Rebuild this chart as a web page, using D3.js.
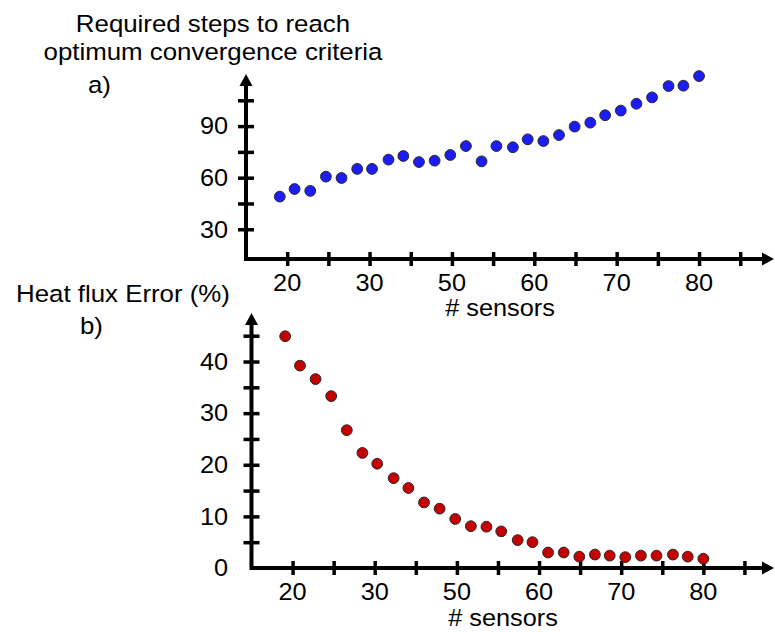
<!DOCTYPE html>
<html>
<head>
<meta charset="utf-8">
<script src="https://cdn.jsdelivr.net/npm/d3@7"></script>
<style>
  html, body { margin: 0; padding: 0; background: #fff; }
  svg { display: block; font-family: "Liberation Sans", Arial, sans-serif; }
</style>
</head>
<body>
<svg id="chart" width="775" height="632"></svg>
<script>
// Number of sensors used in each run (shared by both panels)
const sensors = [29.1, 30.9, 32.8, 34.7, 36.6, 38.5, 40.3, 42.3, 44.1, 46.0,
                 47.9, 49.8, 51.7, 53.6, 55.4, 57.4, 59.2, 61.1, 63.0, 64.9,
                 66.8, 68.6, 70.5, 72.4, 74.3, 76.3, 78.1, 80.0];

// a) steps needed to reach the convergence criteria
const steps = [49.0, 53.4, 52.3, 60.6, 59.8, 65.1, 65.1, 70.5, 72.6, 69.1,
               69.9, 73.2, 78.4, 69.5, 78.4, 77.7, 82.3, 81.3, 84.8, 89.7,
               92.0, 96.3, 99.0, 103.0, 106.7, 113.3, 113.5, 119.1];

// b) heat flux error in percent
const fluxError = [44.9, 39.2, 36.6, 33.3, 26.7, 22.3, 20.2, 17.4, 15.5, 12.7,
                   11.5, 9.5, 8.1, 8.0, 7.1, 5.4, 5.0, 3.0, 3.0, 2.2,
                   2.6, 2.4, 2.1, 2.4, 2.4, 2.6, 2.2, 1.8];

// x axis: tick marks every 5 sensors, printed labels on every second mark
const xTicks = [30, 35, 40, 45, 50, 55, 60, 65, 70, 75, 80, 85];
const xLabelValues = [30, 40, 50, 60, 70, 80];
const xLabelText = ["20", "30", "50", "60", "70", "80"];

const stepsTicks = [30, 45, 60, 75, 90, 105];
const stepsLabels = [30, 60, 90];

const errorTicks = [5, 10, 15, 20, 25, 30, 35, 40, 45];
const errorLabels = [0, 10, 20, 30, 40];

const svg = d3.select("#chart");
const SX = 1.1;   // horizontal stretch of the lettering

function label(g, x, y, txt, size, anchor) {
  return g.append("text")
    .attr("transform", `translate(${x},${y}) scale(${SX},1)`)
    .attr("text-anchor", anchor || "middle")
    .attr("font-size", size)
    .attr("fill", "#000")
    .text(txt);
}

function arrow(g, x, y, dir) {
  const L = 12, W = 6.5;
  let pts;
  if (dir === "right") pts = [[x, y], [x - L, y - W], [x - L, y + W]];
  else pts = [[x, y], [x - W, y + L], [x + W, y + L]];
  g.append("path").attr("d", "M" + pts.join("L") + "Z").attr("fill", "#000");
}

function panel(cfg) {
  const g = svg.append("g");
  const x = d3.scaleLinear().domain(cfg.xDomain).range(cfg.xRange);
  const y = d3.scaleLinear().domain(cfg.yDomain).range(cfg.yRange);
  const x0 = cfg.xRange[0], y0 = cfg.yRange[0];
  const xEnd = cfg.xRange[1], yEnd = cfg.yRange[1];

  // x axis ticks (crossing the axis line)
  const xa = g.append("g").attr("transform", `translate(0,${y0})`)
    .call(d3.axisBottom(x).tickValues(xTicks).tickSize(7).tickFormat(""));
  xa.select(".domain").remove();
  xa.selectAll(".tick line").attr("y1", -7).attr("y2", 7)
    .attr("stroke", "#000").attr("stroke-width", 3.5);

  // y axis ticks
  const ya = g.append("g").attr("transform", `translate(${x0},0)`)
    .call(d3.axisLeft(y).tickValues(cfg.yTicks).tickSize(8).tickFormat(""));
  ya.select(".domain").remove();
  ya.selectAll(".tick line").attr("x1", -8).attr("x2", 8)
    .attr("stroke", "#000").attr("stroke-width", 3.5);

  // axis lines with arrow heads
  g.append("path")
    .attr("d", `M${x0},${yEnd + 10}V${y0}H${xEnd - 10}`)
    .attr("fill", "none").attr("stroke", "#000").attr("stroke-width", 4);
  arrow(g, xEnd, y0, "right");
  arrow(g, x0, yEnd, "up");

  // tick labels
  xLabelValues.forEach((v, i) => label(g, x(v), y0 + cfg.xLabelDy, xLabelText[i], 23));
  cfg.yLabels.forEach(v => {
    label(g, 228, y(v), String(v), 23, "end").attr("dy", "0.36em");
  });

  // axis title
  label(g, cfg.xTitle[0], cfg.xTitle[1], "# sensors", 23);

  // data points
  g.append("g").selectAll("circle")
    .data(sensors.map((s, i) => [s, cfg.values[i]]))
    .join("circle")
    .attr("cx", d => x(d[0]))
    .attr("cy", d => y(d[1]))
    .attr("r", 5.4)
    .attr("fill", cfg.color)
    .attr("stroke", "#2a2a2a")
    .attr("stroke-width", 1);

  return g;
}

// a) required steps
const ga = panel({
  xDomain: [25, 89.1], xRange: [246, 774],
  yDomain: [12.7, 120.3], yRange: [259, 74],
  yTicks: stepsTicks, yLabels: stepsLabels,
  values: steps, color: "#1c1cf5",
  xLabelDy: 32, xTitle: [500, 316]
});
label(ga, 213, 32, "Required steps to reach", 23.5);
label(ga, 213, 60, "optimum convergence criteria", 23.5);
label(ga, 88, 93, "a)", 23.5, "start");

// b) heat flux error
const gb = panel({
  xDomain: [25, 88.6], xRange: [251.5, 774],
  yDomain: [0, 49.4], yRange: [568, 313],
  yTicks: errorTicks, yLabels: errorLabels,
  values: fluxError, color: "#c40000",
  xLabelDy: 32, xTitle: [503, 626]
});
label(gb, 123, 302, "Heat flux Error (%)", 23.5);
label(gb, 80, 334, "b)", 23.5, "start");
</script>
</body>
</html>
